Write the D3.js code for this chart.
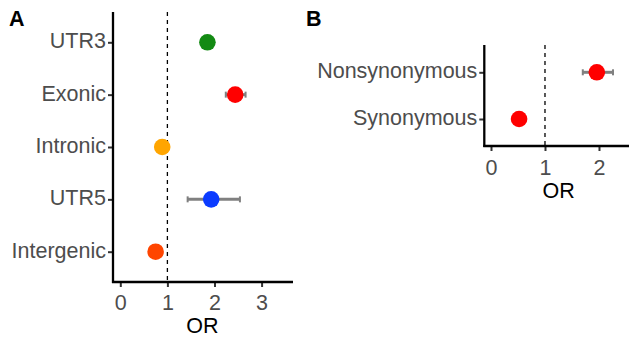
<!DOCTYPE html>
<html>
<head>
<meta charset="utf-8">
<script src="https://cdn.jsdelivr.net/npm/d3@7"></script>
<style>
  html, body { margin: 0; padding: 0; background: #fff; }
  svg { display: block; font-family: "Liberation Sans", Arial, Helvetica, sans-serif; }
</style>
</head>
<body>
<svg id="chart" width="629" height="339"></svg>
<script>
// ---- Data ----
const categoriesA = ["UTR3", "Exonic", "Intronic", "UTR5", "Intergenic"];
const orA   = [1.85, 2.44, 0.89, 1.93, 0.75];
const lowA  = [1.80, 2.24, 0.85, 1.43, 0.71];
const highA = [1.90, 2.66, 0.93, 2.54, 0.79];
const colorsA = ["#138a13", "#ff0000", "#ffa500", "#0b3bff", "#ff4500"];
const ticksA = [0, 1, 2, 3];

const categoriesB = ["Nonsynonymous", "Synonymous"];
const orB   = [1.96, 0.52];
const lowB  = [1.70, 0.48];
const highB = [2.26, 0.56];
const colorsB = ["#ff0000", "#ff0000"];
const ticksB = [0, 1, 2];

const refLine = 1;

const svg = d3.select("#chart");
const FS = 21.5;

function panel(cfg) {
  const g = svg.append("g");
  const x = d3.scaleLinear().domain(cfg.xDomain).range([cfg.left, cfg.right]);
  const y = d3.scalePoint().domain(cfg.cats).range([cfg.yFirst, cfg.yLast]);

  // dashed reference line
  g.append("line")
    .attr("x1", x(refLine)).attr("x2", x(refLine))
    .attr("y1", cfg.top).attr("y2", cfg.bottom)
    .attr("stroke", "#000").attr("stroke-width", 1.3)
    .attr("stroke-dasharray", "4,4");

  // error bars
  const data = cfg.cats.map((c, i) => ({c, v: cfg.vals[i], lo: cfg.lows[i], hi: cfg.highs[i], col: cfg.cols[i]}));
  const eb = g.append("g").selectAll("g").data(data).join("g");
  eb.append("line")
    .attr("x1", d => x(d.lo)).attr("x2", d => x(d.hi))
    .attr("y1", d => y(d.c)).attr("y2", d => y(d.c))
    .attr("stroke", "#808080").attr("stroke-width", 3);
  ["lo", "hi"].forEach(k => {
    eb.append("line")
      .attr("x1", d => x(d[k])).attr("x2", d => x(d[k]))
      .attr("y1", d => y(d.c) - 3).attr("y2", d => y(d.c) + 3)
      .attr("stroke", "#808080").attr("stroke-width", 2);
  });

  // points
  g.append("g").selectAll("circle").data(data).join("circle")
    .attr("cx", d => x(d.v)).attr("cy", d => y(d.c))
    .attr("r", 8.3).attr("fill", d => d.col);

  // y axis
  const ya = g.append("g").attr("transform", `translate(${cfg.left},0)`)
    .call(d3.axisLeft(y).tickSize(5).tickPadding(7));
  ya.attr("font-size", null).attr("font-family", null);
  ya.select(".domain").remove();
  ya.selectAll(".tick line").attr("stroke", "#333").attr("stroke-width", 2);
  ya.selectAll(".tick text")
    .attr("x", -7).attr("dy", null).attr("y", 5.5)
    .style("font-size", FS + "px").attr("fill", "#4d4d4d");

  // x axis
  const xa = g.append("g").attr("transform", `translate(0,${cfg.bottom})`)
    .call(d3.axisBottom(x).tickValues(cfg.ticks).tickFormat(d3.format("d")).tickSize(5));
  xa.attr("font-size", null).attr("font-family", null);
  xa.select(".domain").remove();
  xa.selectAll(".tick line").attr("stroke", "#333").attr("stroke-width", 2);
  xa.selectAll(".tick text")
    .attr("y", cfg.tickBase).attr("dy", null).attr("x", 0)
    .style("font-size", FS + "px").attr("fill", "#4d4d4d");

  // axis lines
  g.append("line").attr("x1", cfg.left).attr("x2", cfg.left)
    .attr("y1", cfg.top).attr("y2", cfg.bottom + 1)
    .attr("stroke", "#000").attr("stroke-width", 2.3);
  g.append("line").attr("x1", cfg.left - 1).attr("x2", cfg.right)
    .attr("y1", cfg.bottom).attr("y2", cfg.bottom)
    .attr("stroke", "#000").attr("stroke-width", 2.3);

  // axis title
  g.append("text")
    .attr("x", cfg.titleX).attr("y", cfg.titleY)
    .attr("text-anchor", "middle").style("font-size", FS + "px").attr("fill", "#000")
    .text("OR");

  // panel tag
  g.append("text")
    .attr("x", cfg.tagX).attr("y", 26)
    .style("font-size", "21.5px").attr("font-weight", "bold").attr("fill", "#000")
    .text(cfg.tag);
}

panel({
  cats: categoriesA, vals: orA, lows: lowA, highs: highA, cols: colorsA, ticks: ticksA,
  xDomain: [-0.155, 3.667], left: 113, right: 293,
  top: 12, bottom: 282, yFirst: 42.3, yLast: 251.7,
  tickBase: 28, titleX: 202.3, titleY: 333, tag: "A", tagX: 9
});

panel({
  cats: categoriesB, vals: orB, lows: lowB, highs: highB, cols: colorsB, ticks: ticksB,
  xDomain: [-0.124, 2.63], left: 484.3, right: 633,
  top: 45, bottom: 146, yFirst: 72.3, yLast: 119,
  tickBase: 28.5, titleX: 558.7, titleY: 197.5, tag: "B", tagX: 306
});
</script>
</body>
</html>
